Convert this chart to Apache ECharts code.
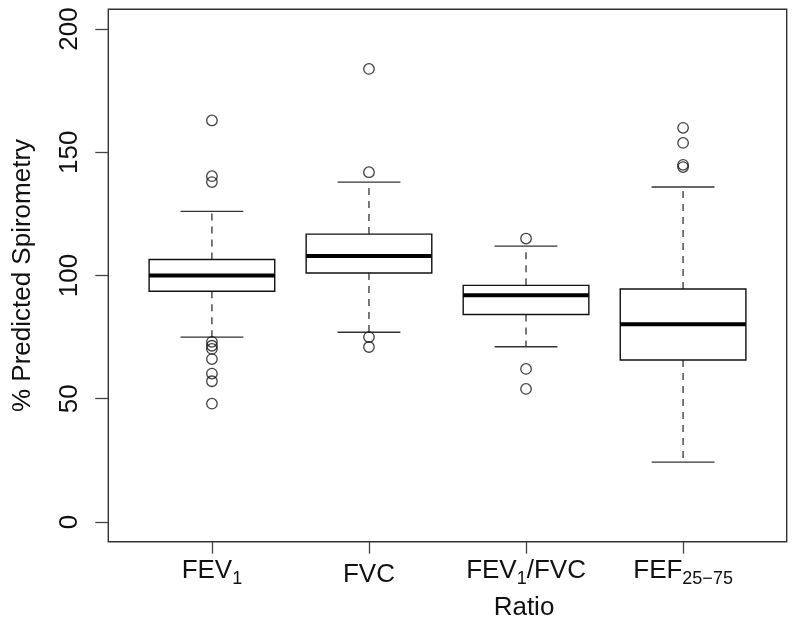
<!DOCTYPE html>
<html>
<head>
<meta charset="utf-8">
<script src="https://cdn.jsdelivr.net/npm/echarts@6/dist/echarts.min.js"></script>
<style>
html,body{margin:0;padding:0;background:#fff;}
#chart{width:800px;height:629px;}
</style>
</head>
<body>
<div id="chart"></div>
<script>
// ---- data ----
const categories = ['FEV1', 'FVC', 'FEV1/FVC', 'FEF25-75'];
const whiskerLow = [75.0, 77.0, 71.1, 24.3];
const quartile1  = [93.6, 101.0, 84.2, 65.7];
const medians    = [100.0, 107.9, 92.0, 80.2];
const quartile3  = [106.5, 116.8, 96.0, 94.5];
const whiskerHigh = [126.0, 137.9, 111.9, 135.9];
const outliersFEV1 = [162.9, 140.3, 137.9, 73.1, 71.5, 70.2, 66.1, 60.2, 57.1, 48.0];
const outliersFVC = [183.8, 141.9, 75.0, 71.0];
const outliersRatio = [115.0, 62.1, 54.0];
const outliersFEF = [159.9, 153.8, 144.9, 144.0];
const yTicks = [0, 50, 100, 150, 200];
const yLabel = '% Predicted Spirometry';
const xLabel = 'Ratio';

// ---- build ----
const boxData = categories.map((c, i) => [i, whiskerLow[i], quartile1[i], medians[i], quartile3[i], whiskerHigh[i]]);
const outlierLists = [outliersFEV1, outliersFVC, outliersRatio, outliersFEF];
const outlierData = [];
outlierLists.forEach((arr, i) => arr.forEach(v => outlierData.push([i, v])));

const FONT = '"Liberation Sans", Arial, Helvetica, sans-serif';
const labelRich = {
  '0': '{m|FEV}{s|1}',
  '1': '{n|FVC}',
  '2': '{m|FEV}{s|1}{m|/FVC}',
  '3': '{m|FEF}{s|25\u221275}'
};

function renderBox(params, api) {
  const x = api.value(0);
  const pLo = api.coord([x, api.value(1)]);
  const pQ1 = api.coord([x, api.value(2)]);
  const pMed = api.coord([x, api.value(3)]);
  const pQ3 = api.coord([x, api.value(4)]);
  const pHi = api.coord([x, api.value(5)]);
  const band = api.size([1, 0])[0];
  const cx = pQ1[0];
  const hb = band * 0.4;
  const hc = band * 0.2;
  const wStyle = {stroke: '#333', lineWidth: 1.3, lineDash: [7, 6]};
  const cStyle = {stroke: '#333', lineWidth: 1.4};
  return {
    type: 'group',
    children: [
      {type: 'line', shape: {x1: cx, y1: pQ3[1], x2: cx, y2: pHi[1]}, style: wStyle},
      {type: 'line', shape: {x1: cx, y1: pQ1[1], x2: cx, y2: pLo[1]}, style: wStyle},
      {type: 'line', shape: {x1: cx - hc, y1: pHi[1], x2: cx + hc, y2: pHi[1]}, style: cStyle},
      {type: 'line', shape: {x1: cx - hc, y1: pLo[1], x2: cx + hc, y2: pLo[1]}, style: cStyle},
      {type: 'rect', shape: {x: cx - hb, y: pQ3[1], width: hb * 2, height: pQ1[1] - pQ3[1]},
        style: {fill: '#fff', stroke: '#111', lineWidth: 1.4}},
      {type: 'line', shape: {x1: cx - hb, y1: pMed[1], x2: cx + hb, y2: pMed[1]},
        style: {stroke: '#000', lineWidth: 4}}
    ]
  };
}

const chart = echarts.init(document.getElementById('chart'), null, {renderer: 'canvas'});
chart.setOption({
  animation: false,
  backgroundColor: '#fff',
  textStyle: {fontFamily: FONT},
  grid: [
    {left: 133.4, right: 38.4, top: 9.3, bottom: 87.3, containLabel: false},
    {left: 108.3, right: 13.3, top: 9.3, bottom: 87.3, containLabel: false,
      show: true, borderColor: '#333', borderWidth: 1.4, backgroundColor: 'transparent'}
  ],
  xAxis: [
    {
      gridIndex: 0, type: 'category', data: categories, boundaryGap: true, position: 'bottom',
      axisLine: {show: false, onZero: false},
      axisTick: {show: true, alignWithLabel: true, length: 12, lineStyle: {color: '#444', width: 1.3}},
      axisLabel: {
        margin: 16, interval: 0, color: '#111', fontFamily: FONT,
        formatter: function (v, idx) { return labelRich[String(idx)]; },
        rich: {
          m: {fontSize: 26, lineHeight: 26, verticalAlign: 'top', fontFamily: FONT, color: '#111'},
          n: {fontSize: 26, lineHeight: 26, verticalAlign: 'top', padding: [4, 0, 0, 0], fontFamily: FONT, color: '#111'},
          s: {fontSize: 18, lineHeight: 18, verticalAlign: 'top', padding: [12, 0, 0, 0], fontFamily: FONT, color: '#111'}
        }
      },
      splitLine: {show: false}
    },
    {gridIndex: 1, type: 'value', min: 0, max: 1, show: false}
  ],
  yAxis: [
    {gridIndex: 0, type: 'value', min: -8, max: 208, show: false, splitLine: {show: false}},
    {
      gridIndex: 1, type: 'value', min: -8, max: 208, position: 'left',
      axisLine: {show: false, onZero: false},
      axisTick: {show: true, length: 13, customValues: yTicks, lineStyle: {color: '#444', width: 1.3}},
      axisLabel: {show: true, rotate: 90, margin: 25, fontSize: 26, color: '#111', fontFamily: FONT, customValues: yTicks},
      splitLine: {show: false},
      name: yLabel, nameLocation: 'middle', nameGap: 72, nameRotate: 90,
      nameTextStyle: {fontSize: 26, color: '#111', fontFamily: FONT}
    }
  ],
  graphic: [
    {type: 'text', x: 524, y: 607.5, style: {text: xLabel, font: '26px ' + FONT, fill: '#111', textAlign: 'center', textVerticalAlign: 'middle'}}
  ],
  series: [
    {
      type: 'custom', xAxisIndex: 0, yAxisIndex: 0,
      renderItem: renderBox, data: boxData,
      encode: {x: 0, y: [1, 2, 3, 4, 5]}, z: 2
    },
    {
      type: 'scatter', xAxisIndex: 0, yAxisIndex: 0, data: outlierData,
      symbol: 'circle', symbolSize: 10.5,
      itemStyle: {color: 'transparent', borderColor: '#111', borderWidth: 1.3}, z: 3
    }
  ]
});
</script>
</body>
</html>
